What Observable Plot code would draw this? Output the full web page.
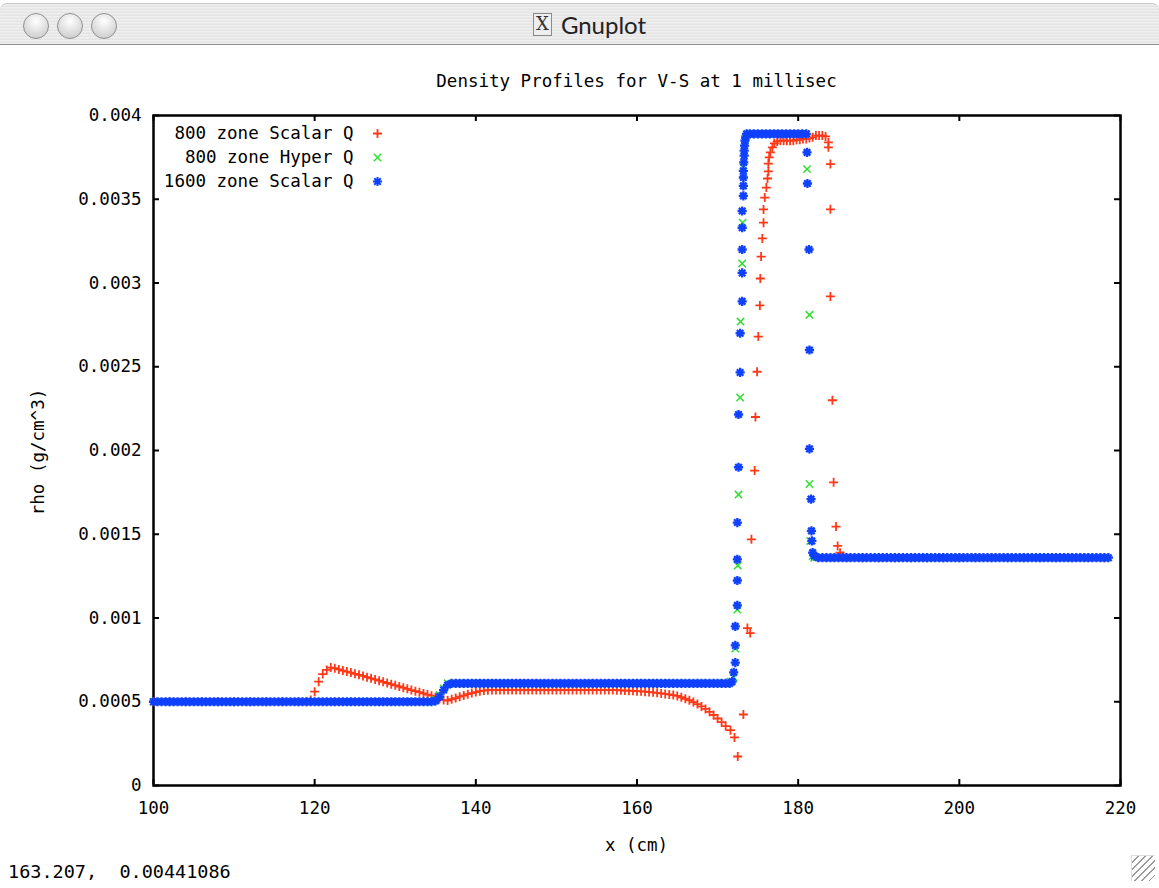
<!DOCTYPE html>
<html>
<head>
<meta charset="utf-8">
<script src="https://cdn.jsdelivr.net/npm/d3@7"></script>
<script src="https://cdn.jsdelivr.net/npm/@observablehq/plot@0.6"></script>
<style>
html,body{margin:0;padding:0;background:#fff;overflow:hidden;}
#page{position:relative;width:1159px;height:888px;overflow:hidden;background:#fff;font-family:"DejaVu Sans Mono",monospace;color:#000;}
#titlebar{position:absolute;left:0;top:3px;width:1159px;height:42px;border-radius:7px 7px 0 0;
  background:repeating-linear-gradient(#efefef 0px,#efefef 1px,#e4e4e4 2px,#e4e4e4 3px),linear-gradient(#f2f2f2,#d4d4d4);
  border-bottom:1px solid #8e8e8e;box-sizing:border-box;border-top:1px solid #c8c8c8;}
.btn{position:absolute;top:10px;width:26px;height:26px;border-radius:50%;box-sizing:border-box;
  background:radial-gradient(circle at 50% 30%,#ffffff 0%,#e4e4e4 45%,#c4c4c4 100%);border:1px solid #8f8f8f;}
#wintitle{position:absolute;left:0;top:3px;width:1159px;height:42px;display:flex;align-items:center;justify-content:center;
  font-family:"Lato","DejaVu Sans",sans-serif;font-size:24px;color:#222;padding-left:20px;box-sizing:border-box;}
#xicon{display:inline-block;width:17px;height:21px;border:1px solid #8a8a8a;font-family:"DejaVu Serif",serif;font-size:18px;line-height:20px;text-align:center;margin-right:9px;background:#eee;color:#333;}
#chart{position:absolute;left:0;top:45px;}
.lbl{position:absolute;font-family:"DejaVu Sans Mono",monospace;font-size:17.5px;line-height:22px;white-space:pre;color:#000;}
#grip{position:absolute;left:1131px;top:855px;width:24px;height:26px;box-sizing:border-box;border-left:1px solid #ddd;border-top:1px solid #ddd;
  background:repeating-linear-gradient(135deg,transparent 0px,transparent 4px,#9a9a9a 4px,#9a9a9a 5px);}
</style>
</head>
<body>
<div id="page">
  <div id="titlebar"></div>
  <div class="btn" style="left:23px;top:13px"></div>
  <div class="btn" style="left:57px;top:13px"></div>
  <div class="btn" style="left:91px;top:13px"></div>
  <div id="wintitle"><span id="xicon">X</span>Gnuplot</div>
  <div id="chart"></div>
  <div class="lbl" id="ptitle" style="left:153px;width:967px;top:70px;text-align:center">Density Profiles for V-S at 1 millisec</div>
  <div class="lbl" id="xlabel" style="left:153px;width:967px;top:834px;text-align:center">x (cm)</div>
  <div class="lbl" id="ylabel" style="left:38px;top:452px;transform:translate(-50%,-50%) rotate(-90deg)">rho (g/cm^3)</div>
  <div class="lbl" id="status" style="left:8px;top:861px;font-size:18.5px">163.207,  0.00441086</div>
  <div id="grip"></div>
</div>
<script>
// ---------- data ----------
const xTicks = [100, 120, 140, 160, 180, 200, 220];
const yTicks = [0, 0.0005, 0.001, 0.0015, 0.002, 0.0025, 0.003, 0.0035, 0.004];
const legendLabels = ["800 zone Scalar Q", "800 zone Hyper Q", "1600 zone Scalar Q"];
const seriesColors = ["#ff3818", "#2fe02f", "#1040ff"];

// 800 zone Scalar Q  [x (cm), rho (g/cm^3)]
const scalar800 = [
[100,.0005],[102,.0005],[104,.0005],[106,.0005],[108,.0005],[110,.0005],[112,.0005],[114,.0005],[116,.0005],[118,.0005],[119,.0005],
[119.5,.00051],[120,.00056],[120.5,.00062],[121,.000665],[121.5,.00069],[122,.000704],[122.5,.0007],[123,.000693],[123.5,.000686],
[124,.00068],[124.5,.000674],[125,.000667],[125.5,.000661],[126,.000654],[126.5,.000647],[127,.00064],[127.5,.000633],[128,.000626],
[128.5,.000619],[129,.000612],[129.5,.000605],[130,.000598],[130.5,.000591],[131,.000584],[131.5,.000577],[132,.00057],[132.5,.000563],
[133,.000557],[133.5,.00055],[134,.000543],[134.5,.000536],[135,.000528],[135.5,.000518],[136,.00051],[136.5,.000507],[137,.000515],
[137.5,.000522],[138,.00053],[138.5,.000537],[139,.000545],[139.5,.000552],[140,.000558],[140.5,.000563],[141,.000567],[141.5,.000569],
[142,.00057],[142.5,.00057],[143,.00057],[143.5,.00057],[144,.00057],[144.5,.00057],[145,.00057],[145.5,.00057],[146,.00057],[146.5,.00057],
[147,.00057],[147.5,.00057],[148,.00057],[148.5,.00057],[149,.00057],[149.5,.00057],[150,.00057],[150.5,.00057],[151,.00057],[151.5,.00057],
[152,.00057],[152.5,.00057],[153,.00057],[153.5,.00057],[154,.00057],[154.5,.00057],[155,.00057],[155.5,.00057],[156,.00057],[156.5,.00057],
[157,.00057],[157.5,.000569],[158,.000568],[158.5,.000567],[159,.000566],[159.5,.000565],[160,.000563],[160.5,.000562],[161,.00056],
[161.5,.000558],[162,.000556],[162.5,.000553],[163,.00055],[163.5,.000547],[164,.000544],[164.5,.00054],[165,.000535],[165.5,.000527],
[166,.000518],[166.5,.000509],[167,.000498],[167.5,.000486],[168,.000472],[168.5,.000457],[169,.00044],[169.5,.000421],[170,.0004],
[170.5,.000378],[171,.000355],[171.6,.00033],[172.1,.000287],[172.5,.000173],[173.2,.000424],[173.7,.00094],[174.05,.00091],
[174.2,.00147],[174.6,.00188],[174.7,.0022],[174.9,.00247],[175.05,.00268],[175.25,.002866],[175.3,.003027],[175.4,.003158],
[175.55,.003266],[175.7,.00336],[175.7,.003439],[175.85,.00351],[176.05,.00357],[176.2,.003624],[176.3,.003666],[176.3,.003713],
[176.4,.00375],[176.55,.00378],[176.8,.00381],[177.05,.003833],[177.4,.003845],[177.8,.00385],[178.2,.00385],[178.6,.00385],
[179,.00385],[179.4,.00385],[179.8,.003855],[180.2,.003855],[180.6,.00386],[181,.00386],[181.4,.003865],[181.8,.00387],[182.2,.00388],
[182.6,.00388],[183,.00388],[183.4,.003875],[183.75,.00384],[183.75,.00381],[184,.00371],[184,.00344],[184,.00292],[184.25,.0023],
[184.4,.00181],[184.7,.001546],[184.9,.00143],[185.2,.00139],[185.6,.00137],[186,.00136],[188,.00136],[190,.00136],[192,.00136],
[194,.00136],[196,.00136],[198,.00136],[200,.00136],[202,.00136],[204,.00136],[206,.00136],[208,.00136],[210,.00136],[212,.00136],
[214,.00136],[216,.00136],[218,.00136]
];

// 800 zone Hyper Q
const hyper800 = [
[100,.0005],[102,.0005],[104,.0005],[106,.0005],[108,.0005],[110,.0005],[112,.0005],[114,.0005],[116,.0005],[118,.0005],[120,.0005],
[122,.0005],[124,.0005],[126,.0005],[128,.0005],[130,.0005],[132,.0005],[134,.0005],[134.5,.0005],[135,.00051],[135.5,.00054],
[136,.00058],[136.5,.00061],[138,.00061],[140,.00061],[142,.00061],[144,.00061],[146,.00061],[148,.00061],[150,.00061],[152,.00061],
[154,.00061],[156,.00061],[158,.00061],[160,.00061],[162,.00061],[164,.00061],[166,.00061],[168,.00061],[170,.00061],[171,.00061],
[171.6,.00062],[172,.000645],[172.2,.000818],[172.45,.00105],[172.5,.001313],[172.6,.001737],[172.8,.002316],[172.85,.00277],
[173.05,.003116],[173.1,.00336],[173.2,.00369],[173.4,.00386],[174,.00389],[175,.00389],[176,.00389],[177,.00389],[178,.00389],
[179,.00389],[180,.00389],[181,.00389],[181.1,.00368],[181.4,.00281],[181.4,.0018],[181.5,.00146],[181.8,.00137],[182,.00136],
[184,.00136],[186,.00136],[188,.00136],[190,.00136],[192,.00136],[194,.00136],[196,.00136],[198,.00136],[200,.00136],[202,.00136],
[204,.00136],[206,.00136],[208,.00136],[210,.00136],[212,.00136],[214,.00136],[216,.00136],[218,.00136]
];

// 1600 zone Scalar Q
const scalar1600 = [
[100,.0005],[100.5,.0005],[101,.0005],[101.5,.0005],[102,.0005],[102.5,.0005],[103,.0005],[103.5,.0005],[104,.0005],[104.5,.0005],
[105,.0005],[105.5,.0005],[106,.0005],[106.5,.0005],[107,.0005],[107.5,.0005],[108,.0005],[108.5,.0005],[109,.0005],[109.5,.0005],
[110,.0005],[110.5,.0005],[111,.0005],[111.5,.0005],[112,.0005],[112.5,.0005],[113,.0005],[113.5,.0005],[114,.0005],[114.5,.0005],
[115,.0005],[115.5,.0005],[116,.0005],[116.5,.0005],[117,.0005],[117.5,.0005],[118,.0005],[118.5,.0005],[119,.0005],[119.5,.0005],
[120,.0005],[120.5,.0005],[121,.0005],[121.5,.0005],[122,.0005],[122.5,.0005],[123,.0005],[123.5,.0005],[124,.0005],[124.5,.0005],
[125,.0005],[125.5,.0005],[126,.0005],[126.5,.0005],[127,.0005],[127.5,.0005],[128,.0005],[128.5,.0005],[129,.0005],[129.5,.0005],
[130,.0005],[130.5,.0005],[131,.0005],[131.5,.0005],[132,.0005],[132.5,.0005],[133,.0005],[133.5,.0005],[134,.0005],[134.5,.0005],
[135,.000505],[135.5,.00053],[136,.00057],[136.5,.0006],[137,.00061],
[137.5,.00061],[138,.00061],[138.5,.00061],[139,.00061],[139.5,.00061],[140,.00061],[140.5,.00061],[141,.00061],[141.5,.00061],
[142,.00061],[142.5,.00061],[143,.00061],[143.5,.00061],[144,.00061],[144.5,.00061],[145,.00061],[145.5,.00061],[146,.00061],
[146.5,.00061],[147,.00061],[147.5,.00061],[148,.00061],[148.5,.00061],[149,.00061],[149.5,.00061],[150,.00061],[150.5,.00061],
[151,.00061],[151.5,.00061],[152,.00061],[152.5,.00061],[153,.00061],[153.5,.00061],[154,.00061],[154.5,.00061],[155,.00061],
[155.5,.00061],[156,.00061],[156.5,.00061],[157,.00061],[157.5,.00061],[158,.00061],[158.5,.00061],[159,.00061],[159.5,.00061],
[160,.00061],[160.5,.00061],[161,.00061],[161.5,.00061],[162,.00061],[162.5,.00061],[163,.00061],[163.5,.00061],[164,.00061],
[164.5,.00061],[165,.00061],[165.5,.00061],[166,.00061],[166.5,.00061],[167,.00061],[167.5,.00061],[168,.00061],[168.5,.00061],
[169,.00061],[169.5,.00061],[170,.00061],[170.5,.00061],[171,.00061],[171.5,.00061],[171.8,.00062],
[172,.000675],[172.2,.000734],[172.2,.000836],[172.2,.00095],[172.45,.001075],[172.45,.001224],[172.45,.00135],[172.45,.00157],
[172.6,.0019],[172.6,.002215],[172.8,.002466],[172.8,.0027],[173.05,.00289],[173.05,.00306],[173.05,.0032],[173.05,.00333],
[173.05,.00343],[173.2,.00352],[173.2,.00358],[173.2,.00363],[173.2,.00367],[173.25,.00372],[173.3,.00376],[173.3,.00379],
[173.35,.00382],[173.4,.00385],[173.5,.00387],[173.6,.00389],
[174,.00389],[174.5,.00389],[175,.00389],[175.5,.00389],[176,.00389],[176.5,.00389],[177,.00389],[177.5,.00389],[178,.00389],
[178.5,.00389],[179,.00389],[179.5,.00389],[180,.00389],[180.5,.00389],[181,.00389],
[181.1,.00378],[181.15,.003594],[181.35,.0032],[181.4,.0026],[181.4,.00201],[181.6,.00171],[181.65,.00152],[181.7,.00146],
[181.8,.00139],[182,.00137],
[182.5,.00136],[183,.00136],[183.5,.00136],[184,.00136],[184.5,.00136],[185,.00136],[185.5,.00136],[186,.00136],[186.5,.00136],
[187,.00136],[187.5,.00136],[188,.00136],[188.5,.00136],[189,.00136],[189.5,.00136],[190,.00136],[190.5,.00136],[191,.00136],
[191.5,.00136],[192,.00136],[192.5,.00136],[193,.00136],[193.5,.00136],[194,.00136],[194.5,.00136],[195,.00136],[195.5,.00136],
[196,.00136],[196.5,.00136],[197,.00136],[197.5,.00136],[198,.00136],[198.5,.00136],[199,.00136],[199.5,.00136],[200,.00136],
[200.5,.00136],[201,.00136],[201.5,.00136],[202,.00136],[202.5,.00136],[203,.00136],[203.5,.00136],[204,.00136],[204.5,.00136],
[205,.00136],[205.5,.00136],[206,.00136],[206.5,.00136],[207,.00136],[207.5,.00136],[208,.00136],[208.5,.00136],[209,.00136],
[209.5,.00136],[210,.00136],[210.5,.00136],[211,.00136],[211.5,.00136],[212,.00136],[212.5,.00136],[213,.00136],[213.5,.00136],
[214,.00136],[214.5,.00136],[215,.00136],[215.5,.00136],[216,.00136],[216.5,.00136],[217,.00136],[217.5,.00136],[218,.00136],
[218.5,.00136]
];

// ---------- gnuplot-like point symbols ----------
const symPlus = {draw(c, s) { const r = Math.sqrt(s / Math.PI); c.moveTo(-r, 0); c.lineTo(r, 0); c.moveTo(0, -r); c.lineTo(0, r); }};
const symTimes = {draw(c, s) { const r = Math.sqrt(s / Math.PI) * 0.7071; c.moveTo(-r, -r); c.lineTo(r, r); c.moveTo(-r, r); c.lineTo(r, -r); }};
const symStar = {draw(c, s) { const r = Math.sqrt(s / Math.PI), d = r * 0.7071;
  c.moveTo(-r, 0); c.lineTo(r, 0); c.moveTo(0, -r); c.lineTo(0, r);
  c.moveTo(-d, -d); c.lineTo(d, d); c.moveTo(-d, d); c.lineTo(d, -d); }};

const series = [
  {data: scalar800, symbol: symPlus, r: 4.5, sw: 1.8},
  {data: hyper800, symbol: symTimes, r: 5.2, sw: 1.5},
  {data: scalar1600, symbol: symStar, r: 4.6, sw: 2.3}
];

const W = 1159, H = 810;
const mL = 153, mR = 39, mT = 70, mB = 70;
const frameW = W - mL - mR, frameH = H - mT - mB;
const tickLen = 6;

const marks = [
  Plot.frame({stroke: "#000", strokeWidth: 2.5}),
  Plot.tickY(yTicks, {y: d => d, insetRight: frameW - tickLen, stroke: "#000", strokeWidth: 2}),
  Plot.tickY(yTicks, {y: d => d, insetLeft: frameW - tickLen, stroke: "#000", strokeWidth: 2}),
  Plot.tickX(xTicks, {x: d => d, insetTop: frameH - tickLen, stroke: "#000", strokeWidth: 2}),
  Plot.tickX(xTicks, {x: d => d, insetBottom: frameH - tickLen, stroke: "#000", strokeWidth: 2}),
  Plot.axisX(xTicks, {tickSize: 0, tickPadding: 16, tickFormat: d => String(d), label: null}),
  Plot.axisY(yTicks, {tickSize: 0, tickPadding: 12, tickFormat: d => String(d), label: null})
];

series.forEach((s, i) => {
  marks.push(Plot.dot(s.data, {x: d => d[0], y: d => d[1], symbol: s.symbol, r: s.r,
    stroke: seriesColors[i], fill: "none", strokeWidth: s.sw}));
});

// legend (key) inside the frame, top-left
series.forEach((s, i) => {
  marks.push(Plot.text([legendLabels[i]], {x: null, y: null, text: d => d, frameAnchor: "top-left",
    dx: 200, dy: 18 + i * 24, textAnchor: "end", lineAnchor: "middle", fill: "#000"}));
  marks.push(Plot.dot([legendLabels[i]], {x: null, y: null, frameAnchor: "top-left",
    dx: 224, dy: 18 + i * 24, symbol: s.symbol, r: s.r, stroke: seriesColors[i], fill: "none",
    strokeWidth: Math.min(s.sw, 2)}));
});

const chart = Plot.plot({
  width: W, height: H,
  marginLeft: mL, marginRight: mR, marginTop: mT, marginBottom: mB,
  x: {domain: [100, 220]},
  y: {domain: [0, 0.004]},
  style: {fontFamily: '"DejaVu Sans Mono", monospace', fontSize: "17.5px", color: "#000", background: "transparent", overflow: "visible"},
  marks
});
document.getElementById("chart").appendChild(chart);
</script>
</body>
</html>
